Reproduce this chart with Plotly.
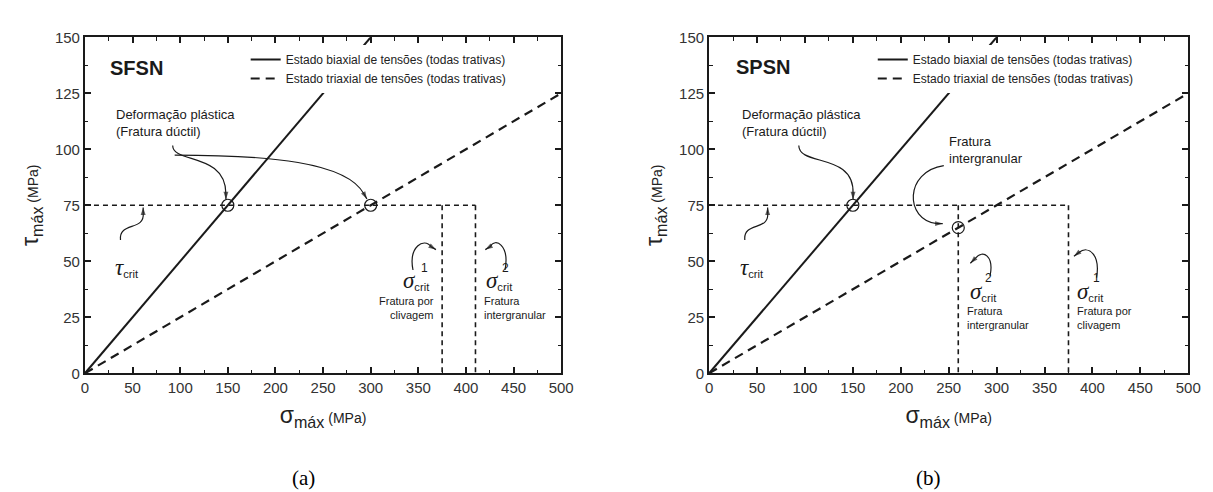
import plotly.graph_objects as go

# ---------------- data ----------------
sigma_biax = [0, 300]
tau_biax = [0, 150]
sigma_triax = [0, 500]
tau_triax = [0, 125]
tau_crit = 75

# panel (a) SFSN
a_sigma_crit1 = 375
a_sigma_crit2 = 410
a_circ_sigma = [150, 300]
a_circ_tau = [75, 75]

# panel (b) SPSN
b_sigma_crit1 = 375
b_sigma_crit2 = 260
b_circ_sigma = [150, 260]
b_circ_tau = [75, 65]

x_ticks = [0, 50, 100, 150, 200, 250, 300, 350, 400, 450, 500]
y_ticks = [0, 25, 50, 75, 100, 125, 150]

legend_names = ["Estado biaxial de tensões (todas trativas)",
                "Estado triaxial de tensões (todas trativas)"]

# curved leader arrows (Bezier points in data units): P0, C1, C2, P3, tip
a_arrows = [
    [(92.1, 101.7), (92.1, 93.5), (148.0, 98.7), (148.0, 80.0), (148.0, 77.6)],
    [(94.2, 97.4), (192.5, 97.4), (275.0, 94.4), (293.0, 80.0), (296.0, 77.8)],
    [(37.3, 59.5), (35.2, 67.7), (63.1, 63.4), (61.1, 71.5), (61.1, 74.0)],
    [(344.4, 46.1), (339.5, 56.5), (356.0, 60.8), (363.4, 56.5), (368.5, 55.2)],
    [(441.0, 46.1), (446.0, 57.3), (430.6, 60.8), (425.5, 56.5), (420.3, 55.2)],
]
b_arrows = [
    [(93.6, 101.7), (93.6, 92.2), (152.3, 98.7), (150.2, 80.0), (150.2, 77.6)],
    [(244.9, 92.7), (203.7, 90.1), (203.7, 68.5), (237.7, 66.8), (243.8, 66.8)],
    [(37.3, 59.5), (35.2, 67.7), (63.1, 63.4), (61.1, 71.5), (61.1, 74.0)],
    [(293.2, 43.5), (297.3, 52.2), (286.0, 55.6), (277.8, 51.3), (272.6, 49.1)],
    [(404.3, 42.7), (408.4, 53.0), (396.0, 57.3), (385.8, 53.9), (380.7, 52.2)],
]

SANS = "Liberation Sans, Arial, sans-serif"
SERIF = "Liberation Serif, Times New Roman, serif"
INK = "#1a1a1a"

fig = go.Figure()


def add_panel(xr, yr, legend, crit1, crit2, circ_s, circ_t):
    fig.add_trace(go.Scatter(x=sigma_biax, y=tau_biax, mode="lines", name=legend_names[0],
                             line=dict(color=INK, width=2), xaxis=xr, yaxis=yr,
                             legend=legend, showlegend=True))
    fig.add_trace(go.Scatter(x=sigma_triax, y=tau_triax, mode="lines", name=legend_names[1],
                             line=dict(color=INK, width=2.2, dash="9px,6px"), xaxis=xr, yaxis=yr,
                             legend=legend, showlegend=True))
    hmax = max(crit1, crit2)
    cx = [0, hmax, None, crit1, crit1, None, crit2, crit2]
    cy = [tau_crit, tau_crit, None, tau_crit, 0, None, tau_crit, 0]
    fig.add_trace(go.Scatter(x=cx, y=cy, mode="lines", showlegend=False,
                             line=dict(color=INK, width=1.6, dash="5px,4px"),
                             xaxis=xr, yaxis=yr))
    fig.add_trace(go.Scatter(x=circ_s, y=circ_t, mode="markers", showlegend=False,
                             marker=dict(symbol="circle-open", size=12, color=INK,
                                         line=dict(width=1.2, color=INK)),
                             xaxis=xr, yaxis=yr))


add_panel("x", "y", "legend", a_sigma_crit1, a_sigma_crit2, a_circ_sigma, a_circ_tau)
add_panel("x2", "y2", "legend2", b_sigma_crit1, b_sigma_crit2, b_circ_sigma, b_circ_tau)

shapes = []
annotations = []


def add_arrows(arrows, xr, yr):
    for p0, c1, c2, p3, tip in arrows:
        shapes.append(dict(type="path", xref=xr, yref=yr,
                           path=f"M {p0[0]},{p0[1]} C {c1[0]},{c1[1]} {c2[0]},{c2[1]} {p3[0]},{p3[1]}",
                           line=dict(color=INK, width=1.2)))
        fig.add_trace(go.Scatter(x=[p3[0], tip[0]], y=[p3[1], tip[1]], mode="lines+markers",
                                 showlegend=False, hoverinfo="skip", xaxis=xr, yaxis=yr,
                                 line=dict(color=INK, width=1.2),
                                 marker=dict(symbol="arrow", angleref="previous", size=[0, 8],
                                             color=INK, line=dict(width=0))))


add_arrows(a_arrows, "x", "y")
add_arrows(b_arrows, "x2", "y2")


def txt(x, y, text, xr, yr, size=13, xanchor="left", align="left", family=SANS, yanchor="middle"):
    annotations.append(dict(x=x, y=y, xref=xr, yref=yr, text=text, showarrow=False,
                            xanchor=xanchor, yanchor=yanchor, align=align,
                            font=dict(family=family, size=size, color=INK)))


def sig(letter):
    return (f'<span style="font-family:Liberation Serif;font-size:23px"><i>{letter}</i></span>'
            f'<sub>crit</sub>')


# panel a texts
txt(23.8, 136.2, "<b>SFSN</b>", "x", "y", size=20)
txt(30, 111.6, "Deformação plástica<br>(Fratura dúctil)", "x", "y", size=13)
txt(44.5, 47, sig("τ"), "x", "y", size=16, xanchor="center")
txt(348, 41.4, sig("σ"), "x", "y", size=16, xanchor="center")
txt(356, 46.8, "1", "x", "y", size=12, xanchor="center")
txt(368.5, 29.3, "Fratura por<br>clivagem", "x", "y", size=11, xanchor="right", align="right")
txt(435, 41.4, sig("σ"), "x", "y", size=16, xanchor="center")
txt(441, 46.8, "2", "x", "y", size=12, xanchor="center")
txt(417.2, 29.3, "Fratura<br>intergranular", "x", "y", size=11)

# panel b texts
txt(25.7, 136.6, "<b>SPSN</b>", "x2", "y2", size=20)
txt(31.9, 111.6, "Deformação plástica<br>(Fratura dúctil)", "x2", "y2", size=13)
txt(248, 99.8, "Fratura<br>intergranular", "x2", "y2", size=13)
txt(44.5, 47, sig("τ"), "x2", "y2", size=16, xanchor="center")
txt(286, 36.6, sig("σ"), "x2", "y2", size=16, xanchor="center")
txt(292, 42.4, "2", "x2", "y2", size=12, xanchor="center")
txt(267.5, 24.6, "Fratura<br>intergranular", "x2", "y2", size=11)
txt(398, 36.6, sig("σ"), "x2", "y2", size=16, xanchor="center")
txt(404.3, 42.4, "1", "x2", "y2", size=12, xanchor="center")
txt(381.7, 24.6, "Fratura por<br>clivagem", "x2", "y2", size=11)

# (a) / (b) captions
W, H = 1213, 492
for cx_px, label in [(296, "(a)"), (930, "(b)")]:
    annotations.append(dict(x=cx_px / W, y=1 - 477 / H, xref="paper", yref="paper", text=label,
                            xanchor="center", yanchor="middle",
                            showarrow=False, font=dict(family=SERIF, size=21, color="#000")))

axis_common = dict(showline=True, linecolor=INK, linewidth=2, mirror="allticks",
                   ticks="inside", ticklen=6, tickwidth=1.6, tickcolor=INK,
                   showgrid=False, zeroline=False,
                   tickfont=dict(family=SANS, size=15, color="#333"))

unit = '<span style="font-size:14px"> (MPa)</span>'
xa = dict(axis_common, range=[0, 500], tickmode="array", tickvals=x_ticks,
          minor=dict(dtick=25, ticks="inside", ticklen=3.5, tickwidth=1.4, tickcolor=INK, showgrid=False),
          title=dict(text="σ<sub>máx</sub>" + unit, font=dict(family=SANS, size=23, color="#222"),
                     standoff=12))
ya = dict(axis_common, range=[0, 150], tickmode="array", tickvals=y_ticks,
          minor=dict(dtick=12.5, ticks="inside", ticklen=3.5, tickwidth=1.4, tickcolor=INK, showgrid=False),
          title=dict(text="τ<sub>máx</sub>" + unit, font=dict(family=SANS, size=23, color="#222"),
                     standoff=10))

ydom = [1 - 369 / H, 1 - 21 / H]
fig.update_layout(
    width=W, height=H,
    margin=dict(l=0, r=0, t=0, b=0),
    paper_bgcolor="white", plot_bgcolor="white",
    xaxis=dict(xa, domain=[74 / W, 557 / W], anchor="y"),
    yaxis=dict(ya, domain=ydom, anchor="x"),
    xaxis2=dict(xa, domain=[707 / W, 1193 / W], anchor="y2"),
    yaxis2=dict(ya, domain=ydom, anchor="x2"),
    legend=dict(x=237 / W, y=1 - 29 / H, xanchor="left", yanchor="top", bgcolor="white",
                font=dict(family=SANS, size=12, color="#222"), tracegroupgap=0,
                itemwidth=30),
    legend2=dict(x=873 / W, y=1 - 29 / H, xanchor="left", yanchor="top", bgcolor="white",
                 font=dict(family=SANS, size=12, color="#222"), tracegroupgap=0,
                 itemwidth=30),
    shapes=shapes,
    annotations=annotations,
)

fig.write_html("out.html")
